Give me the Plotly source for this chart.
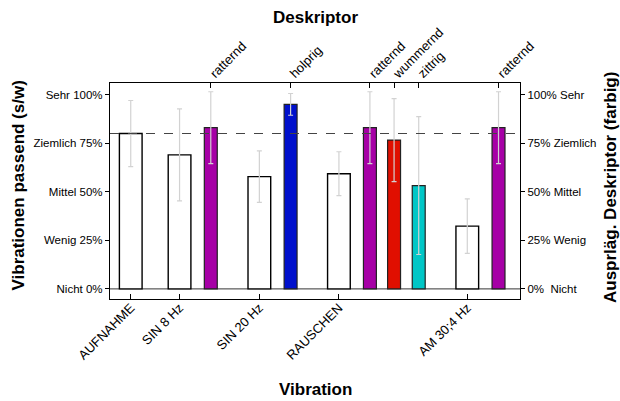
import plotly.graph_objects as go

# ---- data ----
vibrations = ["AUFNAHME", "SIN 8 Hz", "SIN 20 Hz", "RAUSCHEN", "AM 30;4 Hz"]
vib_pos = [0.85, 2.85, 6.12, 9.38, 14.64]
vib_values = [80.0, 69.0, 57.8, 59.3, 32.3]
vib_err = [17.0, 23.7, 13.3, 11.3, 14.0]

descriptors = ["ratternd", "holprig", "ratternd", "wummernd", "zittrig", "ratternd"]
desc_pos = [4.13, 7.40, 10.65, 11.64, 12.65, 15.92]
desc_values = [83.0, 95.0, 83.0, 76.6, 53.2, 83.0]
desc_err = [18.5, 5.6, 18.5, 21.4, 35.5, 18.5]
desc_colors = ["#a600a6", "#0010cc", "#a600a6", "#e00f00", "#00c6c6", "#a600a6"]

left_ticks = ["Nicht 0%", "Wenig 25%", "Mittel 50%", "Ziemlich 75%", "Sehr 100%"]
right_ticks = ["0%  Nicht", "25% Wenig", "50% Mittel", "75% Ziemlich", "100% Sehr"]
tick_vals = [0, 25, 50, 75, 100]
threshold = 80

XR = [0, 16.8]
YR = [-5.2, 106.0]
FONT = "Liberation Sans, Arial, Helvetica, sans-serif"
ERRC = "#d2d2d2"
PH = 216.0  # plot height in px
PW = 410.0  # plot width in px

fig = go.Figure()

fig.add_trace(go.Bar(
    x=vib_pos, y=vib_values, width=0.93,
    marker=dict(color="white", line=dict(color="black", width=1.4)),
    error_y=dict(type="data", array=vib_err, color=ERRC, thickness=1.2, width=2.5),
    xaxis="x", yaxis="y", showlegend=False, hoverinfo="skip",
))
fig.add_trace(go.Bar(
    x=desc_pos, y=desc_values, width=0.53,
    marker=dict(color=desc_colors, line=dict(color="#222", width=1.2)),
    error_y=dict(type="data", array=desc_err, color=ERRC, thickness=1.2, width=2.5),
    xaxis="x2", yaxis="y", showlegend=False, hoverinfo="skip",
))
# invisible trace for right axis
fig.add_trace(go.Scatter(x=[XR[0]], y=[0], xaxis="x", yaxis="y2", mode="markers",
                         marker=dict(opacity=0), showlegend=False, hoverinfo="skip"))

tickfont = dict(family=FONT, size=11.5, color="black")
xtickfont = dict(family=FONT, size=13, color="black")
fig.update_layout(
    width=620, height=401,
    margin=dict(l=110, r=100, t=83, b=102),
    paper_bgcolor="white", plot_bgcolor="white",
    barmode="overlay",
    xaxis=dict(range=XR, tickvals=vib_pos, ticktext=vibrations, tickangle=-45,
               ticks="inside", ticklen=5, tickcolor="black", showline=True, linecolor="black",
               linewidth=1.3, showgrid=False, zeroline=False, tickfont=xtickfont,
               ticklabelstandoff=-5),
    xaxis2=dict(range=XR, overlaying="x", side="top", tickvals=desc_pos, ticktext=descriptors,
                tickangle=-45, ticks="inside", ticklen=5, tickcolor="black", showline=True,
                linecolor="black", linewidth=1.3, showgrid=False, zeroline=False,
                tickfont=xtickfont, ticklabelstandoff=-4),
    yaxis=dict(range=YR, tickvals=tick_vals, ticktext=left_ticks, ticks="outside", ticklen=4,
               tickcolor="black", showline=True, linecolor="black", linewidth=1.3,
               showgrid=False, zeroline=False, tickfont=tickfont),
    yaxis2=dict(range=YR, overlaying="y", side="right", tickvals=tick_vals, ticktext=right_ticks,
                ticks="outside", ticklen=4, tickcolor="black", showline=True, linecolor="black",
                linewidth=1.3, showgrid=False, zeroline=False, tickfont=tickfont),
    shapes=[
        dict(type="line", xref="paper", x0=0, x1=1, yref="y", y0=0, y1=0,
             line=dict(color="#333", width=1), layer="below"),
        dict(type="line", xref="paper", x0=0, x1=1, yref="y", y0=threshold, y1=threshold,
             line=dict(color="#444", width=1.2, dash="dash")),
    ],
    annotations=[
        dict(text="<b>Deskriptor</b>", xref="paper", yref="paper", x=0.5, y=1 + (83 - 18) / PH,
             showarrow=False, font=dict(family=FONT, size=17, color="black"), yanchor="middle"),
        dict(text="<b>Vibration</b>", xref="paper", yref="paper", x=0.5, y=-(389 - 299) / PH,
             showarrow=False, font=dict(family=FONT, size=17, color="black"), yanchor="middle"),
        dict(text="<b>Vibrationen passend (s/w)</b>", xref="paper", yref="paper",
             x=(17.5 - 110) / PW, y=(299 - 186) / PH, xanchor="center", yanchor="middle",
             textangle=-90, showarrow=False, font=dict(family=FONT, size=17, color="black")),
        dict(text="<b>Ausprläg. Deskriptor (farbig)</b>", xref="paper", yref="paper",
             x=(610 - 110) / PW, y=(299 - 188) / PH, xanchor="center", yanchor="middle",
             textangle=-90, showarrow=False, font=dict(family=FONT, size=17, color="black")),
    ],
)

fig.write_html("out.html")
